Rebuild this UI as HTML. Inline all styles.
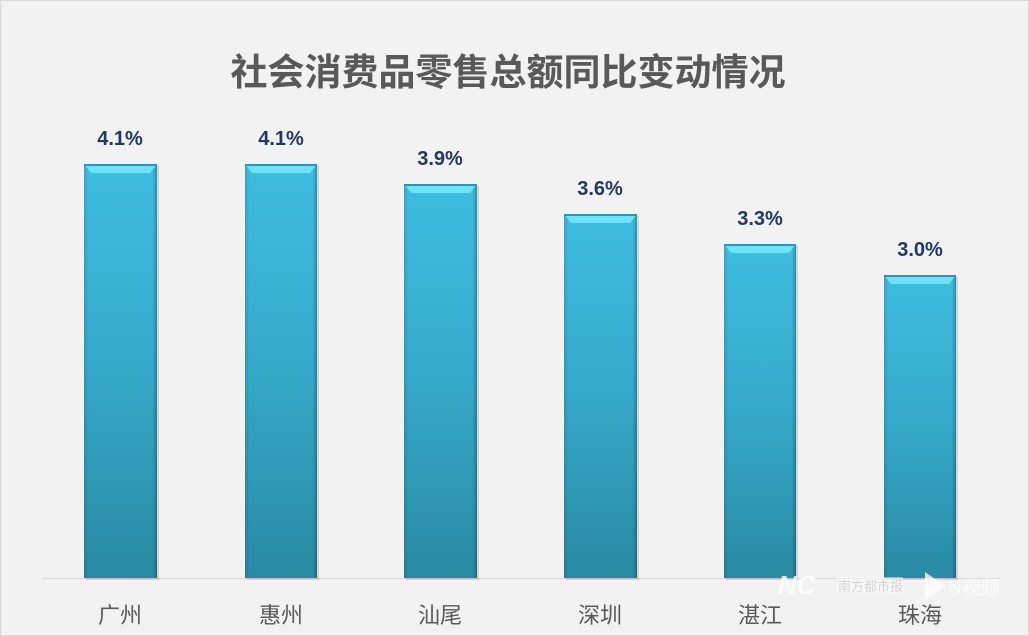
<!DOCTYPE html>
<html><head><meta charset="utf-8"><style>
html,body{margin:0;padding:0;background:#f2f2f2;}
svg{display:block;}
</style></head><body>
<svg width="1029" height="636" xmlns="http://www.w3.org/2000/svg">
<defs>
<linearGradient id="g" x1="0" y1="0" x2="0" y2="1">
<stop offset="0" stop-color="#3ebde1"/><stop offset="0.5" stop-color="#35a9c9"/><stop offset="1" stop-color="#2a8aa4"/>
</linearGradient>
<linearGradient id="side" x1="0" y1="0" x2="1" y2="0">
<stop offset="0" stop-color="#000" stop-opacity="0.12"/><stop offset="0.06" stop-color="#000" stop-opacity="0"/><stop offset="0.94" stop-color="#000" stop-opacity="0"/><stop offset="1" stop-color="#000" stop-opacity="0.25"/>
</linearGradient>
</defs>
<rect x="0.5" y="0.5" width="1028" height="635" fill="#f2f2f2" stroke="#d9d9d9"/>
<text x="508" y="85" text-anchor="middle" font-family="Liberation Sans, Noto Sans CJK SC, sans-serif" font-size="37" font-weight="bold" fill="#595959">社会消费品零售总额同比变动情况</text>
<line x1="42" y1="578.5" x2="1000" y2="578.5" stroke="#d9d9d9" stroke-width="1"/>

<g>
<rect x="86" y="166" width="73" height="414" fill="#000" opacity="0.12"/>
<rect x="84" y="164" width="73" height="414" fill="url(#g)"/>
<rect x="84" y="164" width="73" height="414" fill="url(#side)"/>
<polygon points="84,164 157,164 150,173 91,173" fill="#6fe3fa"/>
<rect x="84" y="164" width="73" height="2" fill="#2b95b4"/>

<rect x="247" y="166" width="72" height="414" fill="#000" opacity="0.12"/>
<rect x="245" y="164" width="72" height="414" fill="url(#g)"/>
<rect x="245" y="164" width="72" height="414" fill="url(#side)"/>
<polygon points="245,164 317,164 310,173 252,173" fill="#6fe3fa"/>
<rect x="245" y="164" width="72" height="2" fill="#2b95b4"/>

<rect x="406" y="186" width="73" height="394" fill="#000" opacity="0.12"/>
<rect x="404" y="184" width="73" height="394" fill="url(#g)"/>
<rect x="404" y="184" width="73" height="394" fill="url(#side)"/>
<polygon points="404,184 477,184 470,193 411,193" fill="#6fe3fa"/>
<rect x="404" y="184" width="73" height="2" fill="#2b95b4"/>

<rect x="566" y="216" width="73" height="364" fill="#000" opacity="0.12"/>
<rect x="564" y="214" width="73" height="364" fill="url(#g)"/>
<rect x="564" y="214" width="73" height="364" fill="url(#side)"/>
<polygon points="564,214 637,214 630,223 571,223" fill="#6fe3fa"/>
<rect x="564" y="214" width="73" height="2" fill="#2b95b4"/>

<rect x="726" y="246" width="72" height="334" fill="#000" opacity="0.12"/>
<rect x="724" y="244" width="72" height="334" fill="url(#g)"/>
<rect x="724" y="244" width="72" height="334" fill="url(#side)"/>
<polygon points="724,244 796,244 789,253 731,253" fill="#6fe3fa"/>
<rect x="724" y="244" width="72" height="2" fill="#2b95b4"/>

<rect x="886" y="277" width="72" height="303" fill="#000" opacity="0.12"/>
<rect x="884" y="275" width="72" height="303" fill="url(#g)"/>
<rect x="884" y="275" width="72" height="303" fill="url(#side)"/>
<polygon points="884,275 956,275 949,284 891,284" fill="#6fe3fa"/>
<rect x="884" y="275" width="72" height="2" fill="#2b95b4"/>
</g>

<g font-family="Liberation Sans, sans-serif" font-size="20" font-weight="bold" fill="#1f3864" text-anchor="middle">
<text x="120" y="145">4.1%</text><text x="281" y="145">4.1%</text><text x="440" y="165">3.9%</text><text x="600" y="195">3.6%</text><text x="760" y="225">3.3%</text><text x="920" y="256">3.0%</text>
</g>
<g font-family="Liberation Sans, Noto Sans CJK SC, sans-serif" font-size="22" fill="#595959" text-anchor="middle">
<text x="120" y="623">广州</text><text x="281" y="623">惠州</text><text x="440" y="623">汕尾</text><text x="600" y="623">深圳</text><text x="760" y="623">湛江</text><text x="920" y="623">珠海</text>
</g>
<g fill="#ffffff" opacity="0.8" font-family="Liberation Sans, Noto Sans CJK SC, sans-serif">
<text x="778" y="594" font-size="26" font-style="italic" font-weight="bold">NC</text>
<rect x="837" y="577" width="66" height="16" fill="#fff" opacity="0.6"/>
<text x="838" y="591" font-size="13" fill="#ccc">南方都市报</text>
<path d="M925 572 L925 600 L945 586 Z"/>
<text x="948" y="594" font-size="19">N视频</text>
</g>
</svg>
</body></html>
